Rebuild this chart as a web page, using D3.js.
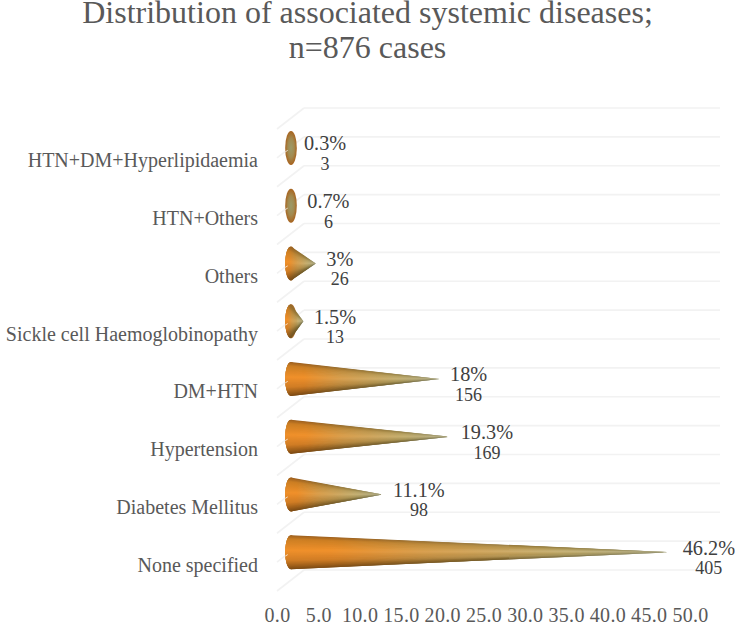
<!DOCTYPE html>
<html><head><meta charset="utf-8">
<script src="https://cdn.jsdelivr.net/npm/d3@7"></script>
<style>html,body{margin:0;padding:0;background:#fff}svg{display:block}
text{font-family:"Liberation Serif",serif}</style></head>
<body><svg id="c" width="735" height="624"></svg>
<script>
const titleLines = ["Distribution of associated systemic diseases;", "n=876 cases"];
const categories = ["None specified","Diabetes Mellitus","Hypertension","DM+HTN","Sickle cell Haemoglobinopathy","Others","HTN+Others","HTN+DM+Hyperlipidaemia"];
const percents = [46.2,11.1,19.3,18,1.5,3,0.7,0.3];
const percentLabels = ["46.2%","11.1%","19.3%","18%","1.5%","3%","0.7%","0.3%"];
const counts = [405,98,169,156,13,26,6,3];
const xTicks = [0,5,10,15,20,25,30,35,40,45,50];

const svg = d3.select("#c"), defs = svg.append("defs");
const W = 735;
const x = d3.scaleLinear().domain([0,50]).range([291,703.5]);      // cone length
const xFront = d3.scaleLinear().domain([0,50]).range([277,690]);   // axis labels
const xBack = d3.scaleLinear().domain([0,50]).range([304,720]);    // back wall
const y = d3.scaleBand().domain(categories).range([581,119]);
const yGrid = d3.scaleLinear().domain([0,8]).range([570,108]);
const depth = {dx:-27, dy:21};
const rx = 5.8, ry = 17;

// Title
svg.append("g").selectAll("text").data(titleLines).join("text")
  .attr("x", W/2).attr("y",(d,i)=>23+i*35).attr("text-anchor","middle")
  .attr("font-size",32).attr("fill","#595959").text(d=>d);

// Grid: back wall + floor slants
const gridVals = d3.range(0,8.01,0.5);
const grid = svg.append("g").attr("stroke","#f2f2f2").attr("stroke-width",1.6).attr("fill","none");
grid.selectAll(".b").data(gridVals).join("line").attr("class","b")
  .attr("x1",xBack(0)).attr("x2",xBack(50)).attr("y1",yGrid).attr("y2",yGrid);
grid.selectAll(".s").data(gridVals).join("line").attr("class","s")
  .attr("x1",xBack(0)).attr("x2",xBack(0)+depth.dx).attr("y1",yGrid).attr("y2",d=>yGrid(d)+depth.dy);

// Cone shading: vertical profile (0 top edge .. 1 bottom edge)
const startProfile = d3.scaleLinear().domain([0,0.12,0.45,0.75,0.92,1])
  .range(["#9c5f1e","#cc7e22","#f0902a","#d07c24","#9a5c18","#7c4a14"]);
const midProfile = d3.scaleLinear().domain([0,0.2,0.5,0.8,1])
  .range(["#8a7436","#b09a58","#c4ae6e","#a08c4c","#6e5e2c"]);
const endProfile = d3.scaleLinear().domain([0,0.5,1])
  .range(["#8e8a60","#aaa680","#7c7a54"]);

const N = 60;
const coneG = svg.append("g");
percents.forEach((v,i)=>{
  const cx = x(0), cy = y(categories[i]) + y.bandwidth()/2, tip = x(v);
  const g = coneG.append("g");
  const capId = `cap${i}`;
  const cap = defs.append("radialGradient").attr("id",capId);
  cap.append("stop").attr("offset","0%").attr("stop-color","#9c9a68");
  cap.append("stop").attr("offset","55%").attr("stop-color","#a28a50");
  cap.append("stop").attr("offset","100%").attr("stop-color","#a8641f");
  g.append("ellipse").attr("cx",cx).attr("cy",cy).attr("rx",rx).attr("ry",ry).attr("fill",`url(#${capId})`);
  if (tip > cx + rx + 1) {
    // left half of the base ellipse, sampled evenly in height
    const pt = t => { const u = Math.min(1, -1 + 2*t); return [cx - rx*Math.sqrt(Math.max(0,1-u*u)), cy + ry*u]; };
    d3.range(N).forEach(k=>{
      const s=(k+0.5)/N, id=`w${i}_${k}`;
      const lg = defs.append("linearGradient").attr("id",id).attr("gradientUnits","userSpaceOnUse")
        .attr("x1",cx-rx).attr("x2",tip).attr("y1",cy).attr("y2",cy);
      const a=startProfile(s), b=midProfile(s), c=endProfile(s);
      [[0,a],[0.12,a],[0.35,d3.interpolateRgb(a,b)(0.5)],[0.72,b],[1,c]]
        .forEach(([o,col])=>lg.append("stop").attr("offset",o).attr("stop-color",col));
      const p=[pt(k/N),pt((k+2.5)/N),[tip,cy]];
      g.append("path").attr("d",d3.line()(p)+"Z").attr("fill",`url(#${id})`);
    });
  }
  // small pale notch on the cap edge
  g.append("line").attr("x1",cx-rx).attr("x2",cx-rx+2.5).attr("y1",cy+4).attr("y2",cy+2.5)
    .attr("stroke","#fff").attr("stroke-opacity",0.75).attr("stroke-width",1);
});

// Category labels
svg.append("g").selectAll("text").data(categories).join("text")
  .attr("x",258).attr("y",d=>y(d)+y.bandwidth()/2+19.5).attr("text-anchor","end")
  .attr("font-size",20).attr("fill","#595959").text(d=>d);

// Data labels
const lab = svg.append("g").attr("fill","#404040").attr("font-size",20.3).attr("text-anchor","middle");
percents.forEach((v,i)=>{
  const cy = y(categories[i]) + y.bandwidth()/2;
  const t1 = lab.append("text").attr("y",cy+2.5).text(percentLabels[i]);
  const w = t1.node().getComputedTextLength();
  const cxL = x(v) + 10.5 + w/2;
  t1.attr("x",cxL);
  lab.append("text").attr("x",cxL).attr("y",cy+22).attr("font-size",18).text(counts[i]);
});

// X axis
const axis = d3.axisBottom(xFront).tickValues(xTicks).tickFormat(d3.format(".1f")).tickSize(0).tickPadding(0);
const ax = svg.append("g").attr("transform","translate(0,605)").call(axis);
ax.select(".domain").remove();
ax.selectAll("text").attr("font-size",20).attr("fill","#595959").attr("font-family","Liberation Serif").attr("letter-spacing",0.3).attr("dy",0).attr("y",17);
</script></body></html>
